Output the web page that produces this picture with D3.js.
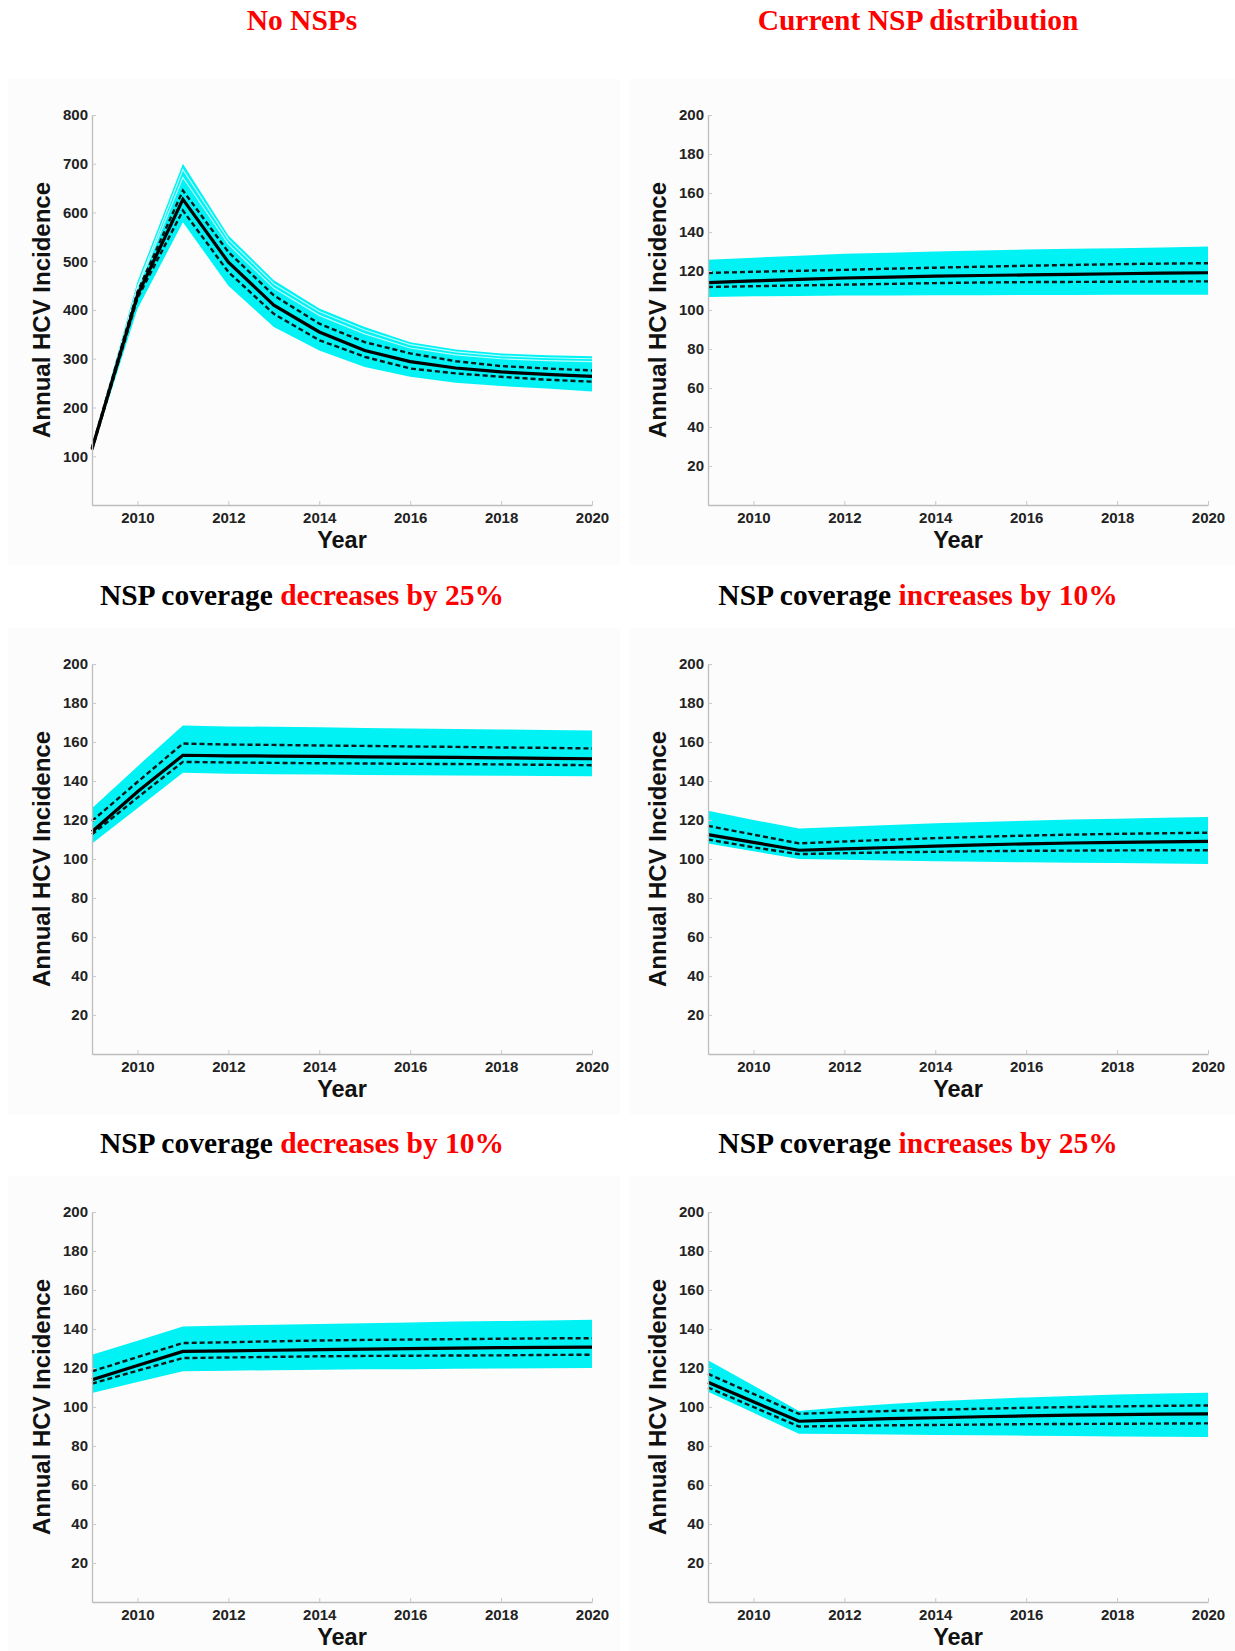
<!DOCTYPE html>
<html>
<head>
<meta charset="utf-8">
<script src="https://cdn.jsdelivr.net/npm/d3@7"></script>
<style>
  body { margin: 0; background: #ffffff; }
  svg { display: block; }
</style>
</head>
<body>
<svg id="fig" width="1235" height="1651"></svg>
<script>
// Simulation years shown on every panel
const years = [2009, 2010, 2011, 2012, 2013, 2014, 2015, 2016, 2017, 2018, 2019, 2020];

// Panel titles: black lead-in plus red highlighted part
const titleLead = ["", "", "NSP coverage ", "NSP coverage ", "NSP coverage ", "NSP coverage "];
const titleHighlight = ["No NSPs", "Current NSP distribution", "decreases by 25%", "increases by 10%", "decreases by 10%", "increases by 25%"];

// Y tick labels
const yTicksWide = [100, 200, 300, 400, 500, 600, 700, 800];
const yTicksNarrow = [20, 40, 60, 80, 100, 120, 140, 160, 180, 200];
const xTicks = [2010, 2012, 2014, 2016, 2018, 2020];

// Scenario: no NSPs
const noNspMedian = [115, 430, 627, 498, 410, 355, 317, 294, 281, 273, 268, 264];
const noNspUpperQ = [117, 437, 645, 519, 430, 372, 334, 311, 295, 285, 280, 276];
const noNspLowerQ = [113, 424, 604, 478, 392, 338, 304, 280, 270, 263, 257, 253];
const noNspMax    = [120, 458, 700, 553, 461, 403, 365, 334, 319, 311, 307, 305];
const noNspMin    = [110, 402, 580, 450, 365, 317, 283, 263, 251, 244, 239, 233];
// a few individual runs near the top of the ensemble
const noNspRunA   = [118, 448, 688, 545, 454, 397, 359, 329, 314, 306, 302, 300];
const noNspRunB   = [117, 444, 672, 535, 445, 389, 351, 322, 308, 300, 296, 294];

// Scenario: current NSP distribution
const currentMedian = [114, 114.9, 115.7, 116.4, 116.9, 117.4, 117.7, 118.0, 118.3, 118.6, 118.9, 119.1];
const currentUpperQ = [119, 119.6, 120.1, 120.6, 121.2, 121.7, 122.2, 122.7, 123.1, 123.5, 123.8, 124];
const currentLowerQ = [111.8, 112.2, 112.6, 113, 113.4, 113.8, 114.1, 114.3, 114.4, 114.5, 114.6, 114.7];
const currentMax    = [125.8, 126.8, 127.8, 128.8, 129.4, 130, 130.5, 131, 131.4, 131.7, 132.1, 132.6];
const currentMin    = [106.7, 107, 107.2, 107.5, 107.5, 107.6, 107.6, 107.7, 107.7, 107.8, 107.8, 107.8];

// Scenario: coverage decreases by 25%
const dec25Median = [114, 134.5, 153.2, 152.9, 152.8, 152.6, 152.4, 152.2, 152.1, 151.9, 151.6, 151.4];
const dec25UpperQ = [119.5, 139.5, 159.2, 158.7, 158.5, 158.2, 158, 157.7, 157.5, 157.2, 157, 156.7];
const dec25LowerQ = [112.6, 131.5, 149.8, 149.5, 149.3, 149.1, 149, 148.8, 148.7, 148.5, 148.3, 148.1];
const dec25Max    = [126, 147.5, 168.4, 168, 167.8, 167.6, 167.2, 166.9, 166.7, 166.4, 166.2, 165.9];
const dec25Min    = [108, 126, 144.2, 143.7, 143.5, 143.3, 143.1, 143, 142.8, 142.7, 142.6, 142.5];

// Scenario: coverage increases by 10%
const inc10Median = [112.5, 108.5, 104.5, 105.2, 105.9, 106.6, 107.2, 107.8, 108.2, 108.5, 108.8, 109];
const inc10UpperQ = [117, 112.5, 108, 109, 109.9, 110.7, 111.4, 112, 112.5, 112.9, 113.2, 113.5];
const inc10LowerQ = [110, 106, 102.5, 103, 103.4, 103.7, 104, 104.2, 104.3, 104.4, 104.5, 104.5];
const inc10Max    = [124.8, 120, 115.6, 116.6, 117.5, 118.3, 119, 119.6, 120.2, 120.7, 121.1, 121.5];
const inc10Min    = [108, 104, 100, 99.6, 99.2, 98.9, 98.6, 98.3, 98.1, 97.9, 97.7, 97.5];

// Scenario: coverage decreases by 10%
const dec10Median = [114, 121.3, 128.5, 128.8, 129.1, 129.4, 129.7, 129.9, 130.2, 130.4, 130.6, 130.7];
const dec10UpperQ = [118.3, 125.6, 132.8, 133.2, 133.7, 134.1, 134.4, 134.6, 134.8, 135, 135.2, 135.3];
const dec10LowerQ = [112, 118.6, 125.1, 125.4, 125.7, 126, 126.2, 126.3, 126.4, 126.5, 126.7, 126.8];
const dec10Max    = [126.8, 134, 141.3, 141.8, 142.2, 142.6, 143, 143.3, 143.8, 144.1, 144.4, 144.7];
const dec10Min    = [107.2, 112.8, 118.3, 118.6, 118.9, 119.1, 119.3, 119.4, 119.6, 119.7, 119.9, 120];

// Scenario: coverage increases by 25%
const inc25Median = [112.7, 102.7, 92.7, 93.4, 94, 94.5, 95, 95.4, 95.8, 96.1, 96.3, 96.5];
const inc25UpperQ = [117, 106.7, 96.5, 97.3, 98, 98.6, 99.1, 99.6, 100, 100.3, 100.6, 100.8];
const inc25LowerQ = [110, 100, 90, 90.3, 90.6, 90.8, 91, 91.2, 91.3, 91.4, 91.5, 91.6];
const inc25Max    = [124, 111, 98, 100, 101.6, 102.9, 104, 104.9, 105.7, 106.4, 106.9, 107.3];
const inc25Min    = [107.8, 97, 86.3, 86.1, 85.9, 85.7, 85.5, 85.3, 85.1, 84.9, 84.7, 84.6];

const panels = [
  { median: noNspMedian,  upper: noNspUpperQ,  lower: noNspLowerQ,  max: noNspMax,  min: noNspMin,  yMax: 800, ticks: yTicksWide, runs: [noNspRunA, noNspRunB] },
  { median: currentMedian, upper: currentUpperQ, lower: currentLowerQ, max: currentMax, min: currentMin, yMax: 200, ticks: yTicksNarrow, runs: [] },
  { median: dec25Median,  upper: dec25UpperQ,  lower: dec25LowerQ,  max: dec25Max,  min: dec25Min,  yMax: 200, ticks: yTicksNarrow, runs: [] },
  { median: inc10Median,  upper: inc10UpperQ,  lower: inc10LowerQ,  max: inc10Max,  min: inc10Min,  yMax: 200, ticks: yTicksNarrow, runs: [] },
  { median: dec10Median,  upper: dec10UpperQ,  lower: dec10LowerQ,  max: dec10Max,  min: dec10Min,  yMax: 200, ticks: yTicksNarrow, runs: [] },
  { median: inc25Median,  upper: inc25UpperQ,  lower: inc25LowerQ,  max: inc25Max,  min: inc25Min,  yMax: 200, ticks: yTicksNarrow, runs: [] }
];

// Grid geometry
const colLeft = [92, 708];
const plotW = 500;
const rowTop = [115, 664, 1212];
const plotH = 390;
const titleX = [302, 918];
const titleY = [30, 605, 1153];

const svg = d3.select("#fig");
const sans = "'Liberation Sans', Arial, sans-serif";
const serif = "'Liberation Serif', 'Times New Roman', serif";
const cyan = "#00f2f4";

panels.forEach((p, i) => {
  const col = i % 2, row = Math.floor(i / 2);
  const x0 = colLeft[col], y0 = rowTop[row];

  // faint figure backdrop
  svg.append("rect")
    .attr("x", col === 0 ? 8 : 630).attr("y", y0 - 36)
    .attr("width", col === 0 ? 612 : 605).attr("height", plotH + 96)
    .attr("fill", "#fcfcfc");

  const title = svg.append("text")
    .attr("x", titleX[col]).attr("y", titleY[row])
    .attr("text-anchor", "middle")
    .style("font-family", serif).style("font-weight", "bold").style("font-size", "29.5px");
  if (titleLead[i]) title.append("tspan").attr("fill", "#000").text(titleLead[i]);
  title.append("tspan").attr("fill", "#ff0000").text(titleHighlight[i]);

  const g = svg.append("g").attr("transform", `translate(${x0},${y0})`);
  const x = d3.scaleLinear().domain([2009, 2020]).range([0, plotW]);
  const y = d3.scaleLinear().domain([0, p.yMax]).range([plotH, 0]);

  // ensemble envelope
  const band = d3.area()
    .x((d, k) => x(years[k]))
    .y0((d, k) => y(p.min[k]))
    .y1((d, k) => y(p.max[k]));
  g.append("path").datum(p.max).attr("d", band).attr("fill", cyan);

  const line = d3.line().x((d, k) => x(years[k])).y(d => y(d));

  p.runs.forEach(r => {
    g.append("path").datum(r).attr("d", line)
      .attr("fill", "none").attr("stroke", "#b8fbfb").attr("stroke-width", 1.2);
  });

  [p.upper, p.lower].forEach(q => {
    g.append("path").datum(q).attr("d", line)
      .attr("fill", "none").attr("stroke", "#0a1a1a").attr("stroke-width", 2.4)
      .attr("stroke-dasharray", "5,3");
  });
  g.append("path").datum(p.median).attr("d", line)
    .attr("fill", "none").attr("stroke", "#000").attr("stroke-width", 3.2);

  // axes
  const xAxis = d3.axisBottom(x).tickValues(xTicks).tickFormat(d3.format("d"))
    .tickSizeInner(-4).tickSizeOuter(0).tickPadding(7);
  const yAxis = d3.axisLeft(y).tickValues(p.ticks).tickFormat(d3.format("d"))
    .tickSizeInner(-4).tickSizeOuter(0).tickPadding(4);

  const gx = g.append("g").attr("transform", `translate(0,${plotH})`).call(xAxis);
  const gy = g.append("g").call(yAxis);
  [gx, gy].forEach(a => {
    a.select(".domain").attr("stroke", "#bdbdbd").attr("stroke-width", 1.3);
    a.selectAll(".tick line").attr("stroke", "#c8c8c8");
    a.selectAll(".tick text")
      .style("font-family", sans).style("font-weight", "bold").style("font-size", "15px")
      .attr("fill", "#222");
  });

  g.append("text")
    .attr("x", plotW / 2).attr("y", plotH + 43)
    .attr("text-anchor", "middle")
    .style("font-family", sans).style("font-weight", "bold").style("font-size", "23.5px")
    .attr("fill", "#111").text("Year");

  g.append("text")
    .attr("transform", `translate(-42,${plotH / 2}) rotate(-90)`)
    .attr("text-anchor", "middle")
    .style("font-family", sans).style("font-weight", "bold").style("font-size", "24px")
    .attr("fill", "#111").text("Annual HCV Incidence");
});
</script>
</body>
</html>
